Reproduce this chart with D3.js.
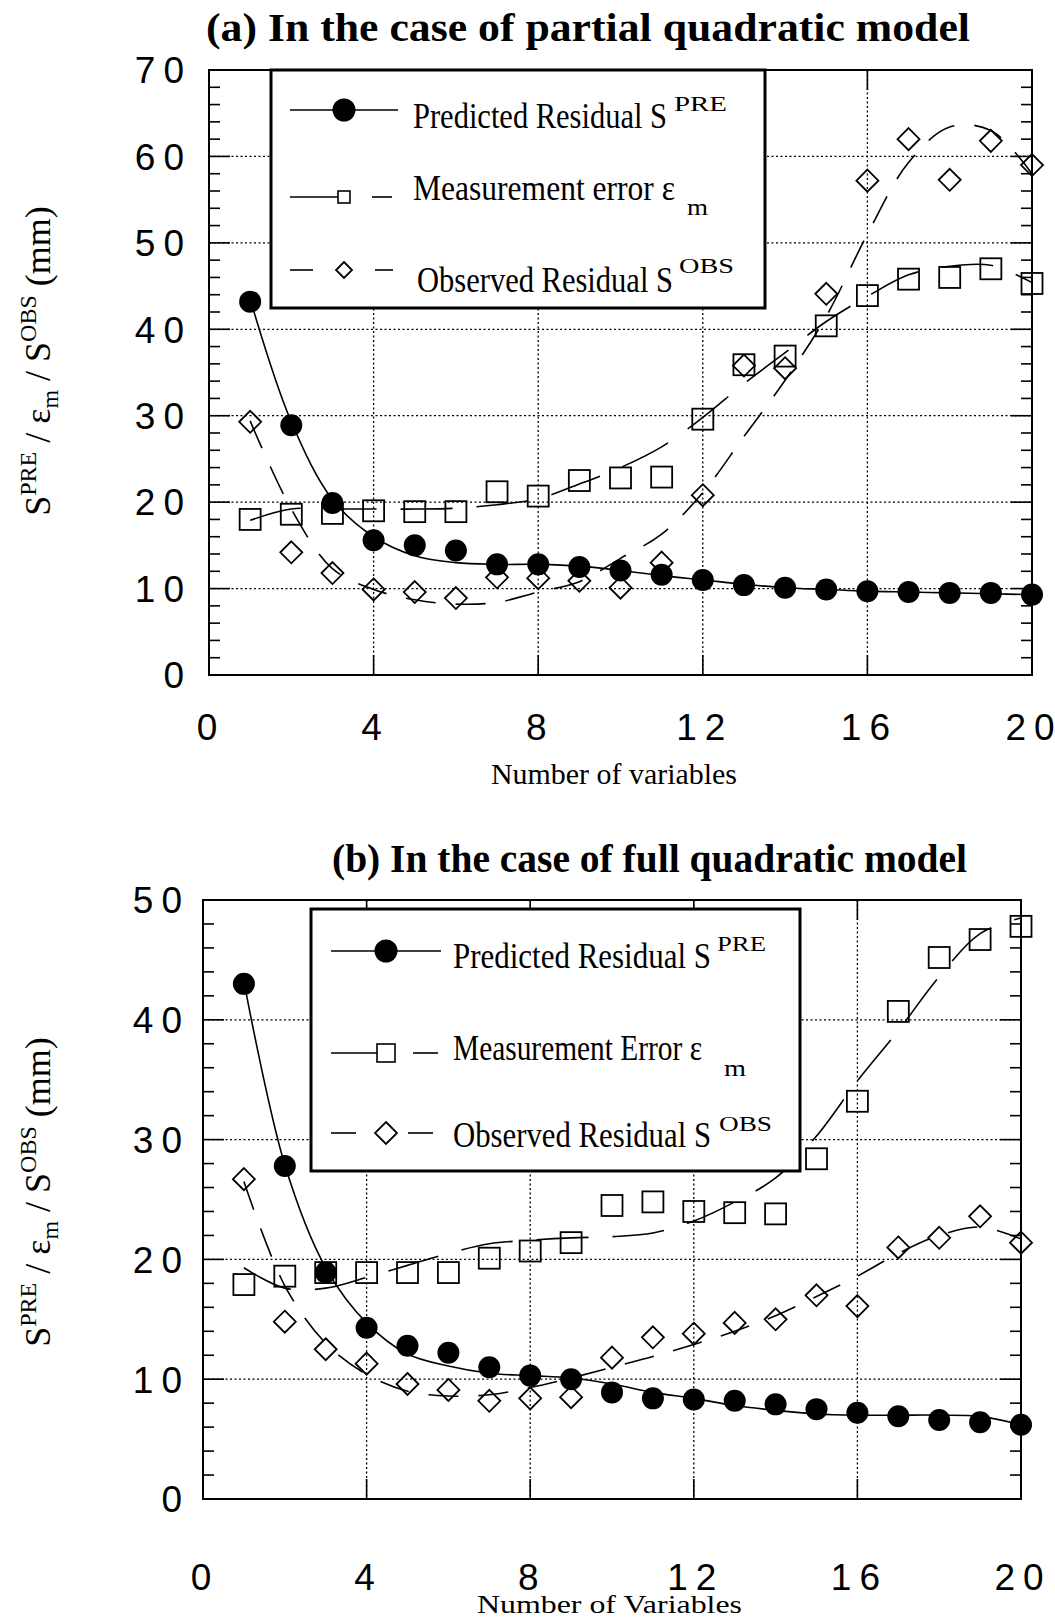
<!DOCTYPE html>
<html>
<head>
<meta charset="utf-8">
<script src="https://cdn.jsdelivr.net/npm/d3@7"></script>
<style>
  body { margin: 0; background: #fff; }
  svg { display: block; }
</style>
</head>
<body>
<div id="chart"></div>
<script>
// number of variables (x) and axis ticks
var nVars = [1, 2, 3, 4, 5, 6, 7, 8, 9, 10, 11, 12, 13, 14, 15, 16, 17, 18, 19, 20];
var xTickVals = [0, 4, 8, 12, 16, 20];
var yTickValsA = [0, 10, 20, 30, 40, 50, 60, 70];
var yTickValsB = [0, 10, 20, 30, 40, 50];

// (a) partial quadratic model - points
var preA = [43.2, 28.9, 19.9, 15.6, 15.0, 14.4, 12.8, 12.8, 12.5, 12.1, 11.6, 11.0, 10.4, 10.1, 9.9, 9.7, 9.6, 9.5, 9.5, 9.3];
var errA = [18.0, 18.6, 18.7, 19.0, 18.9, 18.9, 21.2, 20.7, 22.5, 22.8, 22.9, 29.6, 35.9, 36.9, 40.4, 43.9, 45.8, 46.0, 47.0, 45.3];
var obsA = [29.3, 14.2, 11.8, 9.9, 9.6, 8.9, 11.3, 11.2, 10.9, 10.1, 13.0, 20.8, 35.8, 35.5, 44.1, 57.2, 62.0, 57.3, 61.8, 59.0];
// (a) fitted curves
var preFitA = [43.5, 29.3, 20.3, 16.0, 13.8, 13.0, 12.8, 12.8, 12.6, 12.1, 11.5, 11.0, 10.5, 10.1, 9.9, 9.7, 9.6, 9.5, 9.4, 9.3];
var errFitA = [17.9, 19.2, 19.2, 19.2, 19.2, 19.3, 19.7, 20.4, 22.1, 24.0, 26.4, 29.8, 33.7, 37.3, 40.9, 43.8, 46.3, 47.3, 47.4, 45.4];
var obsFitA = [29.4, 19.2, 12.3, 9.9, 8.7, 8.2, 8.4, 9.6, 10.8, 13.5, 16.3, 21.1, 27.6, 34.1, 41.5, 51.0, 59.3, 63.4, 63.0, 58.0];

// (b) full quadratic model - points
var preB = [43.0, 27.8, 18.9, 14.3, 12.8, 12.2, 11.0, 10.3, 10.0, 8.9, 8.4, 8.3, 8.2, 7.9, 7.5, 7.2, 6.9, 6.6, 6.4, 6.2];
var errB = [17.9, 18.6, 18.9, 18.9, 18.9, 18.9, 20.1, 20.7, 21.4, 24.5, 24.8, 24.0, 23.9, 23.8, 28.4, 33.2, 40.7, 45.2, 46.7, 47.8];
var obsB = [26.7, 14.8, 12.5, 11.3, 9.6, 9.1, 8.2, 8.4, 8.5, 11.8, 13.5, 13.8, 14.7, 15.0, 17.0, 16.1, 21.0, 21.8, 23.6, 21.4];
// (b) fitted curves
var preFitB = [43.2, 27.9, 19.3, 14.7, 12.1, 11.1, 10.5, 10.3, 10.1, 9.6, 8.9, 8.4, 7.8, 7.4, 7.1, 7.0, 7.0, 7.0, 6.9, 6.2];
var errFitB = [19.3, 17.6, 17.6, 18.5, 19.5, 20.5, 21.3, 21.6, 21.8, 21.9, 22.2, 23.2, 24.8, 26.8, 30.3, 34.9, 39.1, 43.6, 47.2, 48.5];
var obsFitB = [26.5, 17.8, 13.0, 10.4, 9.0, 8.6, 8.7, 9.3, 10.1, 11.0, 11.9, 12.9, 14.0, 15.3, 16.9, 18.6, 20.5, 22.0, 22.7, 21.7];

var serif = "'Liberation Serif', 'Times New Roman', serif";
var sans = "'Liberation Sans', Arial, sans-serif";

var svg = d3.select("#chart")
    .append("svg")
    .attr("width", 1055)
    .attr("height", 1618);

svg.append("rect").attr("width", 1055).attr("height", 1618).attr("fill", "#fff");

// spaced-out digits, gap only between characters
function spacedDigits(sel, gap) {
    sel.each(function(d) {
        var t = d3.select(this);
        String(d).split("").forEach(function(c, i) {
            t.append("tspan").attr("dx", i === 0 ? 0 : gap).text(c);
        });
    });
}

function drawPanel(p) {
    var x = d3.scaleLinear().domain([0, 20]).range([p.left, p.right]);
    var y = d3.scaleLinear().domain([0, p.ymax]).range([p.bottom, p.top]);
    var g = svg.append("g");

    // dotted grid
    g.selectAll(".hgrid")
        .data(p.yTicks.filter(function(d) { return d > 0 && d < p.ymax; }))
        .enter().append("line")
        .attr("x1", p.left).attr("x2", p.right)
        .attr("y1", function(d) { return y(d); }).attr("y2", function(d) { return y(d); })
        .attr("stroke", "#000").attr("stroke-width", 1.3).attr("stroke-dasharray", "2,2.5");
    g.selectAll(".vgrid")
        .data(xTickVals.filter(function(d) { return d > 0 && d < 20; }))
        .enter().append("line")
        .attr("x1", function(d) { return x(d); }).attr("x2", function(d) { return x(d); })
        .attr("y1", p.top).attr("y2", p.bottom)
        .attr("stroke", "#000").attr("stroke-width", 1.3).attr("stroke-dasharray", "2,2.5");

    // ticks: minor every 2 on y, major at labels
    var minor = d3.range(2, p.ymax, 2).filter(function(d) { return d % 10 !== 0; });
    [p.left, p.right].forEach(function(ex, i) {
        var dir = i === 0 ? 1 : -1;
        g.selectAll(null).data(minor).enter().append("line")
            .attr("x1", ex).attr("x2", ex + dir * 11)
            .attr("y1", function(d) { return y(d); }).attr("y2", function(d) { return y(d); })
            .attr("stroke", "#000").attr("stroke-width", 1.6);
        g.selectAll(null).data(p.yTicks.filter(function(d) { return d > 0 && d < p.ymax; })).enter().append("line")
            .attr("x1", ex).attr("x2", ex + dir * 21)
            .attr("y1", function(d) { return y(d); }).attr("y2", function(d) { return y(d); })
            .attr("stroke", "#000").attr("stroke-width", 1.6);
    });
    [p.bottom, p.top].forEach(function(ey, i) {
        var dir = i === 0 ? -1 : 1;
        g.selectAll(null).data(xTickVals.filter(function(d) { return d > 0 && d < 20; })).enter().append("line")
            .attr("x1", function(d) { return x(d); }).attr("x2", function(d) { return x(d); })
            .attr("y1", ey).attr("y2", ey + dir * 20)
            .attr("stroke", "#000").attr("stroke-width", 1.6);
    });

    // frame
    g.append("rect")
        .attr("x", p.left).attr("y", p.top)
        .attr("width", p.right - p.left).attr("height", p.bottom - p.top)
        .attr("fill", "none").attr("stroke", "#000").attr("stroke-width", 2);

    // tick labels
    g.selectAll(".ylab").data(p.yTicks).enter().append("text")
        .attr("x", p.ylabX)
        .attr("y", function(d) { return y(d); })
        .attr("dy", "0.36em")
        .attr("text-anchor", "end")
        .attr("font-family", sans).attr("font-size", 37)
        .call(spacedDigits, 8);
    g.selectAll(".xlab").data(xTickVals).enter().append("text")
        .attr("x", function(d) { return x(d) - 2; })
        .attr("y", p.xlabY)
        .attr("text-anchor", "middle")
        .attr("font-family", sans).attr("font-size", 37)
        .call(spacedDigits, 8);

    // fitted curves
    var line = d3.line()
        .x(function(d, i) { return x(nVars[i]); })
        .y(function(d) { return y(d); })
        .curve(d3.curveCatmullRom.alpha(0.5));
    g.append("path").datum(p.preFit).attr("d", line)
        .attr("fill", "none").attr("stroke", "#000").attr("stroke-width", 1.6);
    g.append("path").datum(p.errFit).attr("d", line)
        .attr("fill", "none").attr("stroke", "#000").attr("stroke-width", 1.6)
        .attr("stroke-dasharray", "52,24");
    g.append("path").datum(p.obsFit).attr("d", line)
        .attr("fill", "none").attr("stroke", "#000").attr("stroke-width", 1.6)
        .attr("stroke-dasharray", "30,20");

    // markers
    g.selectAll(".sq").data(p.err).enter().append("rect")
        .attr("x", function(d, i) { return x(nVars[i]) - 10.5; })
        .attr("y", function(d) { return y(d) - 10.5; })
        .attr("width", 21).attr("height", 21)
        .attr("fill", "none").attr("stroke", "#000").attr("stroke-width", 1.8);
    g.selectAll(".dm").data(p.obs).enter().append("path")
        .attr("d", "M0,-11L11,0L0,11L-11,0Z")
        .attr("transform", function(d, i) { return "translate(" + x(nVars[i]) + "," + y(d) + ")"; })
        .attr("fill", "none").attr("stroke", "#000").attr("stroke-width", 1.8);
    g.selectAll(".dot").data(p.pre).enter().append("circle")
        .attr("cx", function(d, i) { return x(nVars[i]); })
        .attr("cy", function(d) { return y(d); })
        .attr("r", 11)
        .attr("fill", "#000");

    // legend
    var L = p.legend;
    g.append("rect")
        .attr("x", L.x0).attr("y", L.y0)
        .attr("width", L.x1 - L.x0).attr("height", L.y1 - L.y0)
        .attr("fill", "#fff").attr("stroke", "#000").attr("stroke-width", 3);
    // row 1
    g.append("line").attr("x1", L.lx0).attr("x2", L.lx1).attr("y1", L.r1).attr("y2", L.r1)
        .attr("stroke", "#000").attr("stroke-width", 1.6);
    g.append("circle").attr("cx", L.mx).attr("cy", L.r1).attr("r", 11.5).attr("fill", "#000");
    // row 2
    g.append("line").attr("x1", L.lx0).attr("x2", L.mx).attr("y1", L.r2).attr("y2", L.r2)
        .attr("stroke", "#000").attr("stroke-width", 1.6);
    g.append("line").attr("x1", L.d2a).attr("x2", L.d2b).attr("y1", L.r2).attr("y2", L.r2)
        .attr("stroke", "#000").attr("stroke-width", 1.6);
    g.append("rect").attr("x", L.mx - L.sq / 2).attr("y", L.r2 - L.sq / 2)
        .attr("width", L.sq).attr("height", L.sq)
        .attr("fill", "#fff").attr("stroke", "#000").attr("stroke-width", 1.6);
    // row 3
    g.append("line").attr("x1", L.lx0).attr("x2", L.d3a).attr("y1", L.r3).attr("y2", L.r3)
        .attr("stroke", "#000").attr("stroke-width", 1.6);
    g.append("line").attr("x1", L.d3b).attr("x2", L.d3c).attr("y1", L.r3).attr("y2", L.r3)
        .attr("stroke", "#000").attr("stroke-width", 1.6);
    g.append("path")
        .attr("d", "M0,-" + L.dm + "L" + L.dm + ",0L0," + L.dm + "L-" + L.dm + ",0Z")
        .attr("transform", "translate(" + L.mx + "," + L.r3 + ")")
        .attr("fill", "#fff").attr("stroke", "#000").attr("stroke-width", 1.8);

    // each legend label: main part plus its super/subscript in one text element
    L.texts.forEach(function(t) {
        var tx = g.append("text").attr("font-family", serif);
        tx.append("tspan")
            .attr("x", t[0][1]).attr("y", t[0][2])
            .attr("font-size", t[0][3])
            .attr("textLength", t[0][4]).attr("lengthAdjust", "spacingAndGlyphs")
            .text(t[0][0]);
        tx.append("tspan")
            .attr("x", t[1][1]).attr("y", t[1][2])
            .attr("font-size", t[1][3])
            .attr("textLength", t[1][4]).attr("lengthAdjust", "spacingAndGlyphs")
            .text(t[1][0]);
    });
}

drawPanel({
    left: 209, right: 1032, top: 70, bottom: 675, ymax: 70,
    yTicks: yTickValsA, ylabX: 184, xlabY: 740,
    pre: preA, err: errA, obs: obsA,
    preFit: preFitA, errFit: errFitA, obsFit: obsFitA,
    legend: {
        x0: 271, y0: 70, x1: 765, y1: 308,
        lx0: 290, lx1: 398, mx: 344, sq: 12, dm: 8,
        d2a: 372, d2b: 392, d3a: 313, d3b: 375, d3c: 393,
        r1: 110, r2: 197, r3: 270,
        texts: [
            [["Predicted Residual S", 413, 128, 35, 254], ["PRE", 674, 111, 22, 53]],
            [["Measurement  error \u03b5", 413, 200, 35, 262], ["m", 687, 215, 24, 21]],
            [["Observed Residual S", 417, 292, 35, 256], ["OBS", 679, 273, 22, 55]]
        ]
    }
});

drawPanel({
    left: 203, right: 1021, top: 900, bottom: 1499, ymax: 50,
    yTicks: yTickValsB, ylabX: 182, xlabY: 1590,
    pre: preB, err: errB, obs: obsB,
    preFit: preFitB, errFit: errFitB, obsFit: obsFitB,
    legend: {
        x0: 311, y0: 909, x1: 800, y1: 1171,
        lx0: 331, lx1: 441, mx: 386, sq: 18, dm: 11,
        d2a: 413, d2b: 438, d3a: 356, d3b: 408, d3c: 433,
        r1: 951, r2: 1053, r3: 1133,
        texts: [
            [["Predicted Residual S", 453, 968, 35, 258], ["PRE", 717, 951, 22, 49]],
            [["Measurement Error \u03b5", 453, 1060, 35, 249], ["m", 724, 1076, 24, 22]],
            [["Observed Residual S", 453, 1147, 35, 258], ["OBS", 719, 1131, 22, 53]]
        ]
    }
});

// titles
svg.append("text")
    .attr("x", 206).attr("y", 41)
    .attr("font-family", serif).attr("font-weight", "bold").attr("font-size", 40)
    .attr("textLength", 764).attr("lengthAdjust", "spacingAndGlyphs")
    .text("(a) In the case of  partial quadratic model");
svg.append("text")
    .attr("x", 332).attr("y", 872)
    .attr("font-family", serif).attr("font-weight", "bold").attr("font-size", 40)
    .attr("textLength", 635).attr("lengthAdjust", "spacingAndGlyphs")
    .text("(b) In the case of full quadratic model");

// x axis titles
svg.append("text")
    .attr("x", 491).attr("y", 784)
    .attr("font-family", serif).attr("font-size", 30)
    .attr("textLength", 246).attr("lengthAdjust", "spacingAndGlyphs")
    .text("Number of variables");
svg.append("text")
    .attr("x", 477).attr("y", 1613)
    .attr("font-family", serif).attr("font-size", 26)
    .attr("textLength", 265).attr("lengthAdjust", "spacingAndGlyphs")
    .text("Number of Variables");

// y axis titles: S^PRE / eps_m / S^OBS (mm)
function yTitle(cx, cy) {
    var t = svg.append("text")
        .attr("transform", "translate(" + cx + "," + cy + ") rotate(-90)")
        .attr("text-anchor", "middle")
        .attr("font-family", serif).attr("font-size", 36);
    t.append("tspan").text("S");
    t.append("tspan").attr("font-size", 24).attr("dy", -14).text("PRE");
    t.append("tspan").attr("dy", 14).text(" / \u03b5");
    t.append("tspan").attr("font-size", 24).attr("dy", 8).text("m");
    t.append("tspan").attr("dy", -8).text(" / S");
    t.append("tspan").attr("font-size", 24).attr("dy", -14).text("OBS");
    t.append("tspan").attr("dy", 14).text(" (mm)");
}
yTitle(50, 361);
yTitle(50, 1192);
</script>
</body>
</html>
